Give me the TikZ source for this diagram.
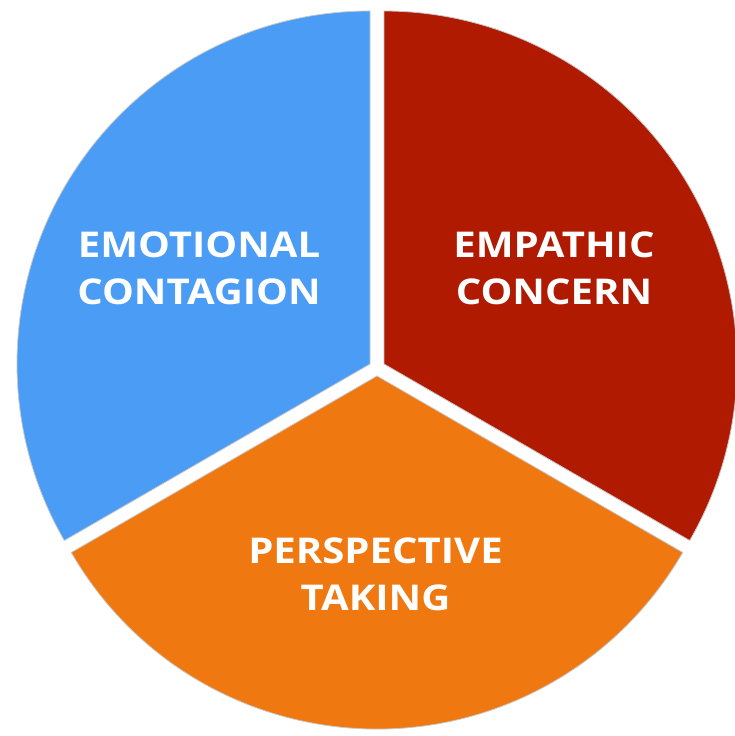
\documentclass[tikz,border=0pt]{standalone}
\usepackage{fontspec}
\setmainfont{Open Sans}
\newfontfamily\lblfont[FakeStretch=1.13]{Open Sans}
\definecolor{cblue}{RGB}{74,156,245}
\definecolor{cred}{RGB}{176,26,0}
\definecolor{corange}{RGB}{240,120,16}
\begin{document}
\begin{tikzpicture}[x=1pt,y=1pt,
  piece/.style={draw=black!22, line width=0.8pt, line join=round},
  lbl/.style={text=white, font=\lblfont\fontsize{35.5}{47}\selectfont\bfseries, align=center, inner sep=0pt}]
\useasboundingbox (0,0) rectangle (734,736);
\def\pieR{353}
\coordinate (ablue) at (370,372);
\coordinate (ared) at (384,372);
\coordinate (aorange) at (377,360);
\filldraw[piece, fill=cblue] (ablue) -- ++(90:\pieR) arc[start angle=90, end angle=210, radius=\pieR] -- cycle;
\filldraw[piece, fill=cred] (ared) -- ++(-30:\pieR) arc[start angle=-30, end angle=90, radius=\pieR] -- cycle;
\filldraw[piece, fill=corange] (aorange) -- ++(210:\pieR) arc[start angle=210, end angle=330, radius=\pieR] -- cycle;
\node[lbl] (emo) at (199,468) {EMOTIONAL\\CONTAGION};
\node[lbl] (emp) at (554,468) {EMPATHIC\\CONCERN};
\node[lbl] (per) at (375.5,162) {PERSPECTIVE\\TAKING};
\end{tikzpicture}
\end{document}
